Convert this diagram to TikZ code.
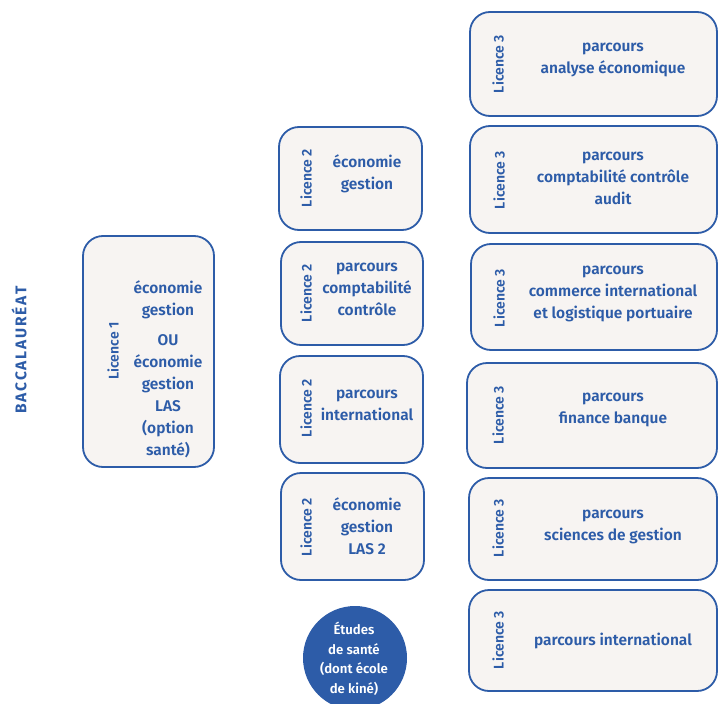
\documentclass[tikz,border=0pt]{standalone}
\usepackage{fontspec}
\setmainfont{Fira Sans}[BoldFont={Fira Sans SemiBold}]
\newfontfamily\heavyfont{Fira Sans Bold}[LetterSpace=12]
\definecolor{ublue}{HTML}{2D5CA8}
\definecolor{ufill}{HTML}{F7F4F2}
\begin{document}
\begin{tikzpicture}[x=1pt,y=-1pt,
  box/.style={draw=ublue, line width=1.8pt, fill=ufill, rounded corners=20pt, inner sep=0pt},
  lic/.style={text=ublue, font=\bfseries\fontsize{14}{16}\selectfont, rotate=90, inner sep=0pt},
  txt/.style={text=ublue, font=\bfseries\fontsize{15.5}{22}\selectfont, align=center, inner sep=0pt},
  ctxt/.style={text=white, font=\bfseries\fontsize{13.2}{19.5}\selectfont, align=center, inner sep=0pt},
  bac/.style={text=ublue, font=\heavyfont\fontsize{15.5}{18}\selectfont, rotate=90, inner sep=0pt}
]
\useasboundingbox (0,0) rectangle (718,704);

\node[bac] (bac) at (19,350) {BACCALAURÉAT};

% Licence 1
\node[box, minimum width=131pt, minimum height=231pt] (l1) at (148.5,351.5) {};
\node[lic] (l1l) at (113,351) {Licence 1};
\node[txt] (l1t) at (168,369) {économie\\gestion\\[8pt]OU\\économie\\gestion\\LAS\\(option\\santé)};

% Licence 2
\node[box, minimum width=143pt, minimum height=103pt] (l2a) at (350.5,178.5) {};
\node[lic] (l2al) at (306,178) {Licence 2};
\node[txt] (l2at) at (367,174) {économie\\gestion};

\node[box, minimum width=142pt, minimum height=103pt] (l2b) at (352,293.5) {};
\node[lic] (l2bl) at (306,293) {Licence 2};
\node[txt] (l2bt) at (367,289) {parcours\\comptabilité\\contrôle};

\node[box, minimum width=143pt, minimum height=107pt] (l2c) at (351.5,409.5) {};
\node[lic] (l2cl) at (306,408) {Licence 2};
\node[txt] (l2ct) at (367,405) {parcours\\international};

\node[box, minimum width=143pt, minimum height=107pt] (l2d) at (352.5,526.5) {};
\node[lic] (l2dl) at (306,527) {Licence 2};
\node[txt] (l2dt) at (367,526) {économie\\gestion\\LAS 2};

\node[circle, fill=ublue, minimum size=104pt, inner sep=0pt] (sante) at (355,658) {};
\node[ctxt] (santet) at (354,659) {Études\\de santé\\(dont école\\de kiné)};

% Licence 3
\node[box, minimum width=247pt, minimum height=104pt] (l3a) at (593.5,64) {};
\node[lic] (l3al) at (498,64) {Licence 3};
\node[txt] (l3at) at (613,59.5) {parcours\\analyse économique};

\node[box, minimum width=247pt, minimum height=107pt] (l3b) at (593.5,179.5) {};
\node[lic] (l3bl) at (499,180) {Licence 3};
\node[txt] (l3bt) at (613,178) {parcours\\comptabilité contrôle\\audit};

\node[box, minimum width=246pt, minimum height=106pt] (l3c) at (594,297) {};
\node[lic] (l3cl) at (499,298) {Licence 3};
\node[txt] (l3ct) at (613,294) {parcours\\commerce international\\et logistique portuaire};

\node[box, minimum width=250pt, minimum height=105pt] (l3d) at (592,415.5) {};
\node[lic] (l3dl) at (498,415) {Licence 3};
\node[txt] (l3dt) at (613,410) {parcours\\finance banque};

\node[box, minimum width=248pt, minimum height=102pt] (l3e) at (593,529) {};
\node[lic] (l3el) at (498,528) {Licence 3};
\node[txt] (l3et) at (613,526.5) {parcours\\sciences de gestion};

\node[box, minimum width=248pt, minimum height=101pt] (l3f) at (593,640.5) {};
\node[lic] (l3fl) at (498,640) {Licence 3};
\node[txt] (l3ft) at (613,641) {parcours international};
\end{tikzpicture}
\end{document}
